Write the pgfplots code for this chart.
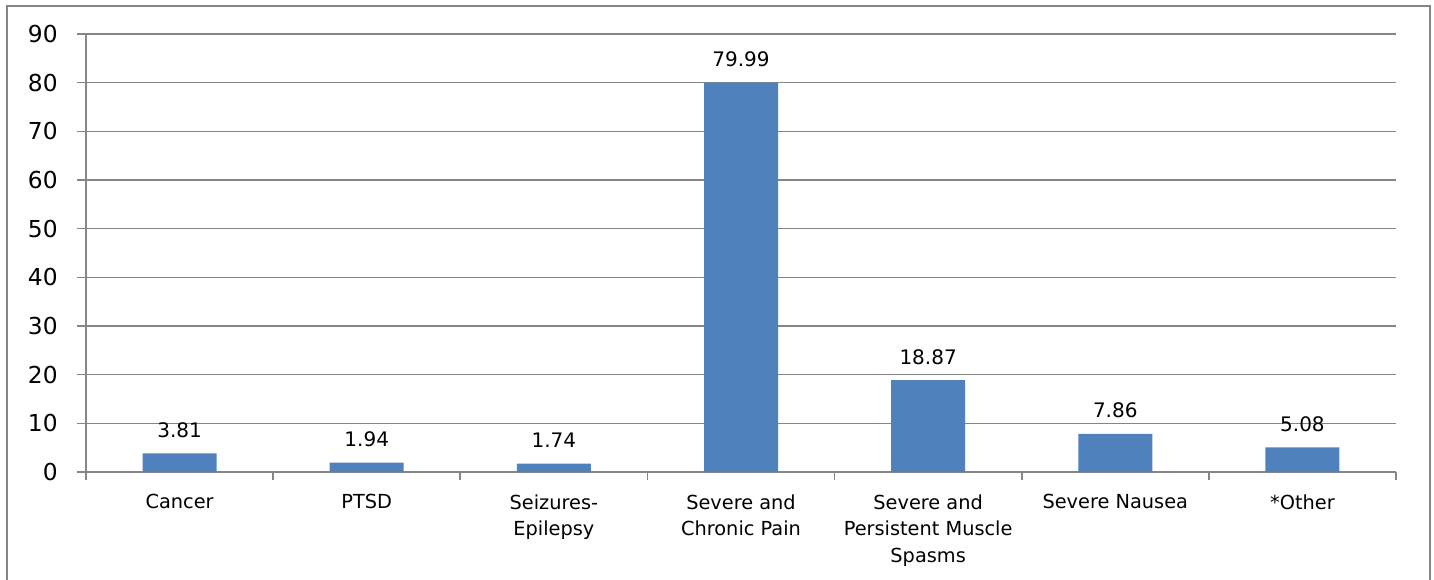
\documentclass[border=0pt]{standalone}
\usepackage{fontspec}
\setmainfont{DejaVu Sans}
\usepackage{pgfplots}
\pgfplotsset{compat=1.18}
\definecolor{barblue}{HTML}{4F81BD}
\definecolor{axgray}{HTML}{868686}
\begin{document}
\begin{tikzpicture}
\path[use as bounding box] (0,0) rectangle (1075.5pt,434.25pt);
% chart frame
\draw[axgray, line width=1.5pt] (5.25pt,-5pt) -- (5.25pt,429.75pt) -- (1072.5pt,429.75pt) -- (1072.5pt,-5pt);
\begin{axis}[
  at={(64.5pt,80.25pt)}, anchor=south west,
  width=982.5pt, height=328.5pt, scale only axis,
  ybar, bar width=55.5pt,
  xmin=-0.5, xmax=6.5, ymin=0, ymax=90,
  ytick={0,10,...,90},
  xtick={0,...,6},
  xticklabels={Cancer, PTSD, Seizures-\\Epilepsy, Severe and\\Chronic Pain, Severe and\\Persistent Muscle\\Spasms, Severe Nausea, *Other},
  extra x ticks={-0.5,0.5,...,6.5},
  extra x tick labels={},
  extra x tick style={major x tick style={draw=axgray, line width=1.2pt}, major tick length=6pt},
  major x tick style={draw=none},
  major y tick style={draw=axgray, line width=1pt},
  tick align=outside, major tick length=6.75pt,
  axis lines*=left,
  axis line style={axgray, line width=1.6pt},
  ymajorgrids, grid style={axgray, line width=1pt},
  /pgf/number format/assume math mode=true,
  yticklabel style={font=\fontsize{17.5}{20}\selectfont, xshift=-11pt},
  xticklabel style={font=\fontsize{14.5}{20}\selectfont, align=center, anchor=north, inner sep=0pt, yshift=-10pt},
  nodes near coords={\pgfmathprintnumber[assume math mode=true]{\pgfplotspointmeta}},
  nodes near coords style={font=\fontsize{15}{17}\selectfont, anchor=base, inner sep=0pt, yshift=12pt, black},
]
\addplot[fill=barblue, draw=none] coordinates {(0,3.81) (1,1.94) (2,1.74) (3,79.99) (4,18.87) (5,7.86) (6,5.08)};
\end{axis}
\end{tikzpicture}
\end{document}
